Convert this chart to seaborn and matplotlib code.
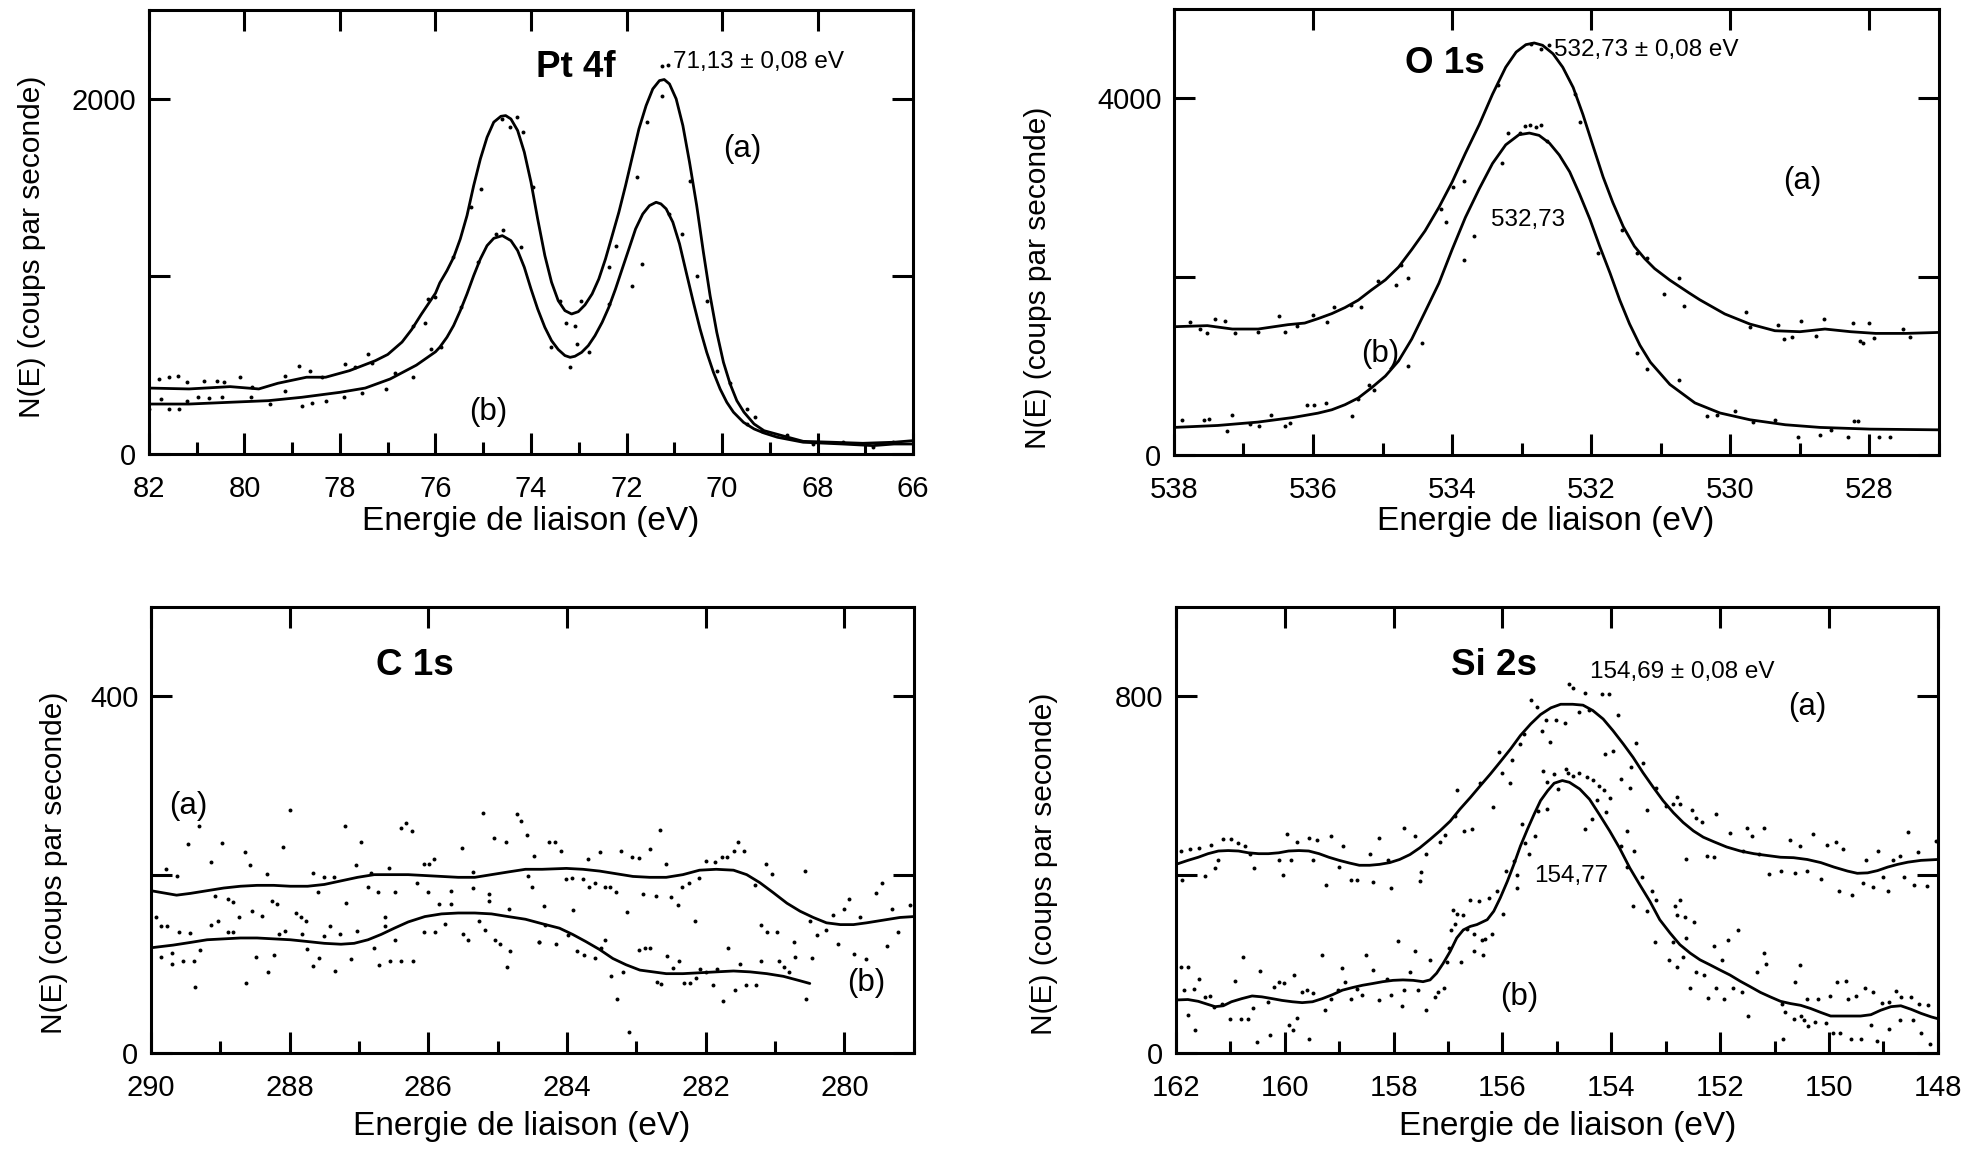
import matplotlib
matplotlib.use("Agg")
import matplotlib.pyplot as plt
import seaborn as sns

# ---------------- Pt 4f ----------------
pt_a_x = [82.0, 81.16, 80.3, 79.7, 79.3, 78.7, 78.3, 77.8, 77.26, 77.0, 76.7, 76.5, 76.3, 76.0,
          75.91, 75.76, 75.62, 75.48, 75.34, 75.20, 75.06, 74.92, 74.78, 74.63,
          74.53, 74.42, 74.28, 74.14, 74.00, 73.86, 73.71, 73.57, 73.43, 73.29,
          73.15, 73.01, 72.87, 72.72, 72.58, 72.44, 72.30, 72.16, 72.02, 71.88,
          71.74, 71.59, 71.45, 71.31, 71.21, 71.10, 70.96, 70.82, 70.68, 70.53,
          70.39, 70.25, 70.11, 69.97, 69.83, 69.69, 69.54, 69.33, 69.12,
          68.74, 68.3, 67.7, 67.05, 66.4, 66.0]
pt_a_y = [371, 366, 379, 366, 398, 432, 432, 469, 525, 560, 630, 700, 785, 905,
          963, 1032, 1107, 1211, 1342, 1511, 1661, 1783, 1868, 1901,
          1905, 1886, 1821, 1699, 1530, 1323, 1117, 967, 863, 807,
          788, 801, 839, 901, 985, 1098, 1229, 1361, 1511, 1671,
          1830, 1961, 2055, 2102, 2108, 2083, 1999, 1849, 1642, 1398,
          1136, 892, 685, 516, 394, 300, 235, 169, 131,
          103, 71, 66, 60, 66, 75]
pt_b_x = [82.0, 81.16, 80.3, 79.5, 78.8, 78.0, 77.47, 76.95, 76.4, 76.0,
          75.91, 75.76, 75.62, 75.48, 75.34, 75.20, 75.06, 74.92, 74.78, 74.60,
          74.42, 74.28, 74.14, 74.00, 73.86, 73.71, 73.57, 73.43, 73.29, 73.18,
          73.08, 72.94, 72.80, 72.66, 72.51, 72.37, 72.23, 72.09, 71.95, 71.81,
          71.66, 71.52, 71.38, 71.28, 71.17, 71.03, 70.89, 70.75, 70.60, 70.46,
          70.32, 70.18, 70.04, 69.90, 69.76, 69.55, 69.33, 69.12,
          68.84, 68.3, 67.47, 66.84, 66.4, 66.0]
pt_b_y = [281, 281, 291, 300, 319, 347, 371, 422, 500, 575,
          601, 657, 723, 807, 901, 1004, 1098, 1173, 1214, 1229,
          1201, 1145, 1051, 929, 816, 713, 638, 588, 554, 544,
          550, 572, 610, 666, 741, 826, 929, 1042, 1154, 1267,
          1351, 1398, 1417, 1408, 1380, 1305, 1183, 1023, 854, 704,
          572, 460, 366, 291, 235, 178, 141, 118,
          94, 66, 56, 47, 56, 56]
pt_dots_a_x = [81.79, 81.58, 81.39, 81.21, 80.84, 80.58, 80.42, 80.10, 79.84, 79.16,
               78.86, 78.63, 78.37, 77.89, 77.68, 77.42, 77.32, 76.47, 76.21, 76.16,
               76.00, 75.63, 75.26, 75.05, 74.61, 74.44, 74.29, 74.16, 73.95, 73.39,
               73.26, 73.07, 72.95, 72.37, 72.21, 71.79, 71.58, 71.26, 70.68, 70.32,
               69.84, 69.47, 69.31, 71.26, 71.13]
pt_dots_a_y = [422, 431, 441, 403, 413, 413, 403, 435, 375, 441,
               497, 469, 431, 507, 488, 563, 510, 722, 735, 872,
               882, 1107, 1388, 1491, 1885, 1838, 1899, 1810, 1501, 863,
               735, 722, 859, 1051, 1173, 1557, 1867, 2017, 1538, 863,
               398, 253, 206, 2185, 2191]
pt_dots_b_x = [82.0, 81.74, 81.58, 81.37, 81.21, 80.97, 80.74, 80.47, 79.87, 79.47,
               79.16, 78.79, 78.58, 78.29, 77.91, 77.53, 77.03, 76.84, 76.47, 76.10,
               75.89, 75.47, 75.10, 74.74, 74.58, 74.21, 73.58, 73.18, 73.03, 72.79,
               72.37, 71.89, 71.68, 71.10, 70.84, 70.53, 70.10, 69.47, 69.16, 68.63,
               68.10, 67.47, 66.84, 66.42]
pt_dots_b_y = [253, 310, 253, 253, 300, 319, 315, 319, 319, 281,
               356, 272, 285, 300, 319, 341, 366, 454, 431, 591,
               604, 825, 1079, 1238, 1261, 1163, 600, 488, 619, 572,
               844, 947, 1069, 1351, 1238, 1004, 469, 169, 131, 109,
               56, 66, 38, 66]

# ---------------- O 1s ----------------
o_a_x = [538.0, 537.52, 537.16, 536.79, 536.36, 536.12, 535.93, 535.73, 535.54, 535.35,
         535.16, 534.96, 534.77, 534.58, 534.39, 534.19, 534.00, 533.81, 533.61, 533.42,
         533.23, 533.08, 532.94, 532.82, 532.70, 532.55, 532.41, 532.26, 532.12, 531.98,
         531.83, 531.69, 531.54, 531.38, 531.23, 531.09, 530.87, 530.6, 530.44, 530.08,
         529.72, 529.36, 529.0, 528.64, 528.27, 527.91, 527.48, 527.0]
o_a_y = [1438, 1450, 1412, 1412, 1461, 1479, 1528, 1585, 1653, 1736,
         1850, 1963, 2107, 2304, 2512, 2777, 3060, 3382, 3704, 4044,
         4347, 4517, 4600, 4619, 4593, 4498, 4347, 4120, 3817, 3477,
         3117, 2830, 2560, 2340, 2200, 2090, 1960, 1820, 1740, 1581,
         1468, 1393, 1382, 1412, 1382, 1363, 1363, 1374]
o_b_x = [538.0, 537.37, 536.79, 536.29, 536.12, 535.93, 535.73, 535.54, 535.35, 535.16,
         534.96, 534.77, 534.58, 534.39, 534.19, 534.00, 533.81, 533.61, 533.42, 533.23,
         533.04, 532.89, 532.75, 532.60, 532.46, 532.31, 532.17, 532.02, 531.88, 531.73,
         531.59, 531.45, 531.3, 531.15, 530.87, 530.51, 530.15, 529.72, 529.21, 528.71,
         527.99, 527.0]
o_b_y = [309, 331, 369, 420, 443, 469, 507, 564, 639, 753,
         885, 1055, 1301, 1604, 1926, 2304, 2663, 2985, 3268, 3477,
         3590, 3609, 3583, 3495, 3363, 3174, 2928, 2644, 2342, 2039,
         1736, 1470, 1230, 1040, 791, 584, 471, 395, 339, 309,
         290, 282]
o_dots_a_x = [537.77, 537.63, 537.53, 537.41, 537.26, 537.12, 536.79, 536.49, 536.40, 536.23,
              536.00, 535.80, 535.70, 535.46, 535.31, 535.06, 534.81, 534.74, 534.64, 534.16,
              534.09, 533.99, 533.83, 533.34, 532.23, 532.16, 531.56, 531.34, 531.20, 530.74,
              530.96, 530.66, 529.78, 529.72, 529.32, 529.23, 529.11, 528.98, 528.77, 528.65,
              528.24, 528.14, 528.09, 528.00, 527.93, 527.52, 527.42, 532.86, 532.72, 532.61]
o_dots_a_y = [1487, 1412, 1363, 1525, 1498, 1363, 1374, 1562, 1374, 1450,
              1574, 1487, 1664, 1687, 1664, 1947, 1901, 2127, 1988, 2756,
              2617, 3004, 3068, 4149, 4047, 3735, 2523, 2267, 2203, 1988,
              1800, 1675, 1600, 1438, 1461, 1299, 1318, 1498, 1337, 1525,
              1476, 1280, 1261, 1476, 1310, 1412, 1318, 4612, 4556, 4593]
o_dots_b_x = [537.88, 537.57, 537.50, 537.24, 537.17, 536.90, 536.78, 536.61, 536.40, 536.33,
              536.09, 535.99, 535.82, 535.44, 535.35, 535.20, 535.12, 534.64, 534.43, 533.83,
              533.68, 533.29, 533.20, 533.03, 532.95, 532.88, 532.79, 532.72, 532.64, 531.90,
              531.34, 531.20, 530.74, 530.33, 530.19, 529.94, 529.68, 529.36, 529.03, 528.71,
              528.56, 528.31, 528.22, 528.17, 527.86, 527.71]
o_dots_b_y = [395, 395, 407, 264, 452, 346, 320, 452, 320, 358,
              557, 557, 584, 433, 633, 783, 734, 998, 1261, 2184,
              2455, 3276, 3614, 3607, 3690, 3697, 3682, 3697, 3520, 2267,
              1148, 960, 836, 433, 452, 497, 369, 395, 207, 226,
              282, 207, 384, 384, 207, 207]

# ---------------- C 1s ----------------
c_a_x = [290.00, 289.63, 289.43, 289.19, 288.95, 288.71, 288.47, 288.23, 287.99, 287.74,
         287.50, 287.26, 287.02, 286.78, 286.54, 286.29, 286.05, 285.81, 285.57, 285.33,
         285.09, 284.85, 284.60, 284.36, 284.01, 283.77, 283.53, 283.29, 283.05, 282.81,
         282.57, 282.33, 282.09, 281.85, 281.60, 281.41, 281.22, 281.03, 280.83, 280.64,
         280.45, 280.26, 280.06, 279.87, 279.68, 279.44, 279.20, 279.0]
c_a_y = [182, 177, 179, 182, 185, 187, 188, 188, 187, 187,
         189, 193, 197, 200, 200, 200, 199, 198, 197, 197,
         200, 203, 206, 206, 207, 206, 204, 201, 198, 197,
         197, 200, 205, 206, 205, 200, 191, 180, 168, 159,
         152, 146, 144, 144, 146, 149, 152, 153]
c_b_x = [290.00, 289.68, 289.43, 289.19, 288.95, 288.71, 288.47, 288.23, 287.99, 287.74,
         287.50, 287.26, 287.07, 286.87, 286.68, 286.49, 286.29, 286.05, 285.81, 285.57,
         285.33, 285.09, 284.85, 284.60, 284.36, 284.11, 283.92, 283.73, 283.53, 283.34,
         283.15, 282.95, 282.76, 282.57, 282.33, 282.09, 281.85, 281.60, 281.36, 281.12,
         280.88, 280.64, 280.50]
c_b_y = [118, 121, 124, 127, 128, 129, 129, 128, 127, 125,
         123, 122, 123, 127, 133, 140, 147, 153, 156, 157,
         157, 156, 153, 150, 145, 140, 133, 125, 116, 106,
         99, 93, 91, 89, 89, 90, 91, 92, 91, 89,
         86, 81, 78]
c_dots_1_x = [287.99, 289.31, 289.46, 288.98, 288.65, 289.14, 288.57, 289.78, 289.62, 288.33,
              288.09, 287.20, 286.97, 287.04, 286.40, 286.32, 286.24, 286.57, 286.83, 287.67,
              287.51, 287.36, 286.87, 286.72, 286.48, 287.59, 289.07, 288.89, 288.82, 288.25,
              288.18, 287.19, 289.93, 289.86, 289.77, 289.60, 289.44, 289.14, 289.04, 288.89,
              288.81, 288.73, 288.54, 288.40, 288.15, 288.07, 287.91, 287.83, 287.77, 287.82,
              287.51, 287.42, 287.27, 287.03, 286.63, 286.63, 286.48, 286.16, 286.06, 285.99,
              285.92, 286.00, 285.84, 285.67, 285.68, 285.51, 285.36, 285.35, 285.21, 285.05,
              284.88, 284.72, 284.66, 284.58, 284.48, 284.57, 284.50, 285.13, 285.13, 284.84,
              285.27, 285.19, 285.04, 284.97, 284.82, 284.87, 285.50, 285.43, 285.76, 285.91,
              286.06, 284.41, 289.86, 289.70, 289.69, 289.54, 289.38, 289.29, 289.36, 288.63,
              288.31, 288.48, 288.23, 287.75, 287.67, 287.58, 287.35, 287.11, 286.79, 286.71,
              286.55, 286.39, 286.22]
c_dots_1_y = [272, 255, 234, 236, 225, 214, 211, 206, 199, 201,
              231, 254, 237, 211, 252, 258, 249, 207, 202, 202,
              197, 197, 186, 180, 181, 180, 176, 173, 169, 170,
              167, 168, 152, 142, 142, 136, 135, 144, 148, 136,
              136, 153, 159, 154, 133, 137, 157, 152, 148, 134,
              131, 142, 133, 137, 153, 142, 127, 191, 212, 212,
              217, 180, 167, 167, 182, 230, 203, 185, 269, 241,
              237, 268, 260, 244, 221, 199, 186, 178, 170, 162,
              148, 138, 127, 122, 114, 96, 133, 127, 145, 136,
              136, 125, 108, 100, 112, 103, 103, 116, 74, 79,
              91, 108, 110, 117, 98, 106, 92, 105, 118, 99,
              103, 103, 103]
c_dots_2_x = [282.66, 284.26, 284.18, 284.09, 283.70, 283.52, 283.22, 283.06, 282.96, 282.81,
              282.57, 282.00, 281.86, 281.76, 281.69, 281.60, 281.53, 281.45, 281.13, 281.04,
              280.57, 284.01, 283.93, 283.77, 283.69, 283.60, 283.46, 283.38, 283.30, 283.14,
              282.90, 282.72, 282.50, 282.40, 282.34, 282.24, 282.10, 282.16, 284.33, 283.92,
              284.32, 284.40, 284.16, 283.99, 283.85, 283.76, 283.60, 283.51, 283.45, 283.36,
              283.20, 283.28, 282.96, 282.88, 282.80, 282.71, 282.64, 282.56, 282.47, 282.39,
              282.32, 282.23, 282.14, 282.08, 281.99, 281.90, 281.84, 281.75, 281.68, 281.58,
              281.51, 281.42, 281.28, 281.29, 281.21, 281.11, 280.97, 281.20, 280.95, 280.87,
              280.80, 280.73, 280.71, 280.55, 280.50, 280.47, 280.40, 280.26, 280.17, 280.09,
              280.00, 279.93, 279.86, 279.77, 279.69, 279.54, 279.46, 279.39, 279.32, 279.23,
              279.06, 283.11]
c_dots_2_y = [250, 237, 237, 227, 217, 225, 227, 220, 219, 229,
              212, 215, 214, 220, 220, 227, 237, 227, 212, 201,
              204, 195, 196, 195, 186, 191, 186, 186, 180, 158,
              178, 176, 175, 166, 186, 191, 196, 148, 165, 160,
              143, 124, 122, 132, 114, 110, 106, 118, 127, 86,
              91, 61, 116, 118, 118, 80, 77, 109, 95, 103,
              78, 78, 84, 94, 91, 76, 94, 58, 118, 71,
              100, 76, 76, 188, 143, 136, 136, 103, 103, 96,
              91, 124, 108, 61, 148, 106, 132, 138, 155, 122,
              162, 173, 111, 153, 105, 179, 191, 120, 161, 136,
              166, 24]

# ---------------- Si 2s ----------------
si_a_x = [162.0, 161.78, 161.59, 161.41, 161.22, 161.04, 160.85, 160.67, 160.48, 160.30,
          160.11, 159.93, 159.74, 159.56, 159.37, 159.19, 159.00, 158.81, 158.63, 158.44,
          158.26, 158.07, 157.89, 157.70, 157.52, 157.33, 157.15, 156.96, 156.78, 156.59,
          156.41, 156.22, 156.04, 155.85, 155.67, 155.48, 155.30, 155.11, 154.93, 154.71,
          154.52, 154.34, 154.15, 153.97, 153.78, 153.60, 153.42, 153.23, 153.05, 152.86,
          152.68, 152.49, 152.31, 152.12, 151.88, 151.63, 151.38, 151.14, 150.89, 150.65,
          150.40, 150.15, 149.91, 149.66, 149.48, 149.29, 149.11, 148.92, 148.74, 148.55,
          148.31, 148.0]
si_a_y = [423, 432, 439, 447, 453, 454, 453, 449, 447, 447,
          449, 453, 454, 453, 447, 439, 432, 426, 421, 421,
          423, 427, 434, 445, 460, 479, 498, 520, 547, 573,
          599, 626, 653, 682, 712, 738, 759, 774, 782, 782,
          780, 768, 749, 723, 693, 663, 629, 596, 566, 539,
          517, 498, 484, 474, 462, 453, 447, 443, 439, 438,
          434, 427, 417, 408, 403, 404, 409, 417, 423, 428,
          432, 434]
si_b_x = [162.0, 161.78, 161.59, 161.41, 161.28, 161.13, 160.98, 160.79, 160.60, 160.42,
          160.23, 160.05, 159.86, 159.68, 159.49, 159.31, 159.12, 158.94, 158.75, 158.57,
          158.38, 158.20, 158.01, 157.83, 157.64, 157.46, 157.33, 157.21, 157.09, 156.96,
          156.84, 156.72, 156.59, 156.47, 156.28, 156.16, 156.04, 155.91, 155.79, 155.67,
          155.54, 155.42, 155.30, 155.17, 155.05, 154.90, 154.77, 154.58, 154.40, 154.22,
          154.03, 153.85, 153.66, 153.48, 153.29, 153.11, 152.92, 152.74, 152.55, 152.37,
          152.19, 152.00, 151.82, 151.63, 151.45, 151.26, 151.08, 150.89, 150.71, 150.52,
          150.34, 150.15, 149.97, 149.78, 149.60, 149.42, 149.23, 149.05, 148.86, 148.68,
          148.49, 148.31, 148.12, 148.0]
si_b_y = [119, 120, 116, 109, 104, 106, 115, 122, 128, 126,
          122, 118, 115, 113, 115, 122, 131, 141, 147, 152,
          156, 160, 163, 164, 163, 160, 164, 179, 201, 228,
          258, 276, 284, 288, 299, 318, 348, 385, 423, 464,
          502, 535, 566, 588, 605, 611, 607, 592, 569, 535,
          498, 460, 415, 378, 340, 299, 269, 243, 224, 209,
          198, 186, 175, 161, 149, 136, 126, 116, 111, 107,
          100, 91, 83, 83, 83, 83, 86, 96, 104, 106,
          98, 89, 81, 77]
si_dots_1_x = [161.90, 161.75, 161.58, 161.36, 161.13, 160.98, 160.86, 160.73, 159.96, 159.77,
               159.56, 159.40, 159.15, 158.93, 158.44, 158.27, 157.80, 157.61, 157.40, 161.89,
               161.46, 161.28, 161.22, 160.64, 160.56, 160.11, 160.04, 159.88, 159.48, 159.25,
               159.00, 158.78, 158.68, 158.37, 158.10, 158.04, 157.52, 157.49, 157.14, 157.06,
               156.87, 156.83, 156.70, 156.56, 156.41, 156.17, 156.07, 156.01, 155.86, 155.82,
               155.67, 155.60, 155.47, 155.37, 155.28, 155.20, 155.12, 155.02, 154.98, 155.25,
               155.19]
si_dots_1_y = [454, 457, 460, 466, 479, 481, 472, 464, 492, 474,
               483, 477, 487, 464, 447, 483, 504, 487, 447, 389,
               397, 414, 432, 447, 414, 432, 399, 432, 432, 376,
               417, 387, 387, 384, 432, 369, 385, 406, 474, 490,
               532, 590, 498, 502, 605, 552, 674, 629, 605, 656,
               692, 716, 792, 776, 723, 746, 697, 747, 592, 632,
               607]
si_dots_2_x = [156.91, 156.83, 156.72, 156.60, 156.44, 156.25, 156.10, 155.99, 156.95, 156.87,
               156.65, 156.52, 156.38, 156.19, 156.36, 156.77, 156.53, 156.33, 155.73, 155.73,
               155.59, 155.51, 155.41, 155.35, 155.19, 155.64, 155.79, 155.94, 155.06, 154.83]
si_dots_2_y = [321, 312, 310, 344, 340, 348, 363, 312, 276, 289,
               279, 267, 254, 267, 219, 204, 228, 256, 400, 370,
               472, 447, 487, 543, 547, 514, 430, 408, 626, 637]
si_dots_3_x = [161.90, 161.77, 161.85, 161.67, 161.58, 161.78, 161.65, 161.46, 161.38, 161.30,
               161.16, 161.01, 160.91, 160.80, 160.76, 160.68, 160.59, 160.51, 160.45, 160.30,
               160.27, 160.19, 160.11, 160.02, 159.93, 159.85, 159.83, 159.77, 159.69, 159.60,
               159.56, 159.48, 159.32, 159.26, 159.15, 159.03, 158.95, 158.89, 158.78, 158.68,
               158.58, 158.51, 158.37, 158.26, 158.12, 158.04, 157.92, 157.84, 157.80, 157.69,
               157.61, 157.55, 157.40, 157.33, 157.24, 157.18, 157.07, 157.02, 156.99]
si_dots_3_y = [194, 194, 141, 143, 167, 86, 51, 126, 128, 104,
               109, 77, 161, 77, 216, 77, 101, 25, 184, 115,
               40, 149, 160, 156, 62, 51, 175, 79, 137, 141,
               31, 134, 220, 96, 122, 141, 190, 160, 122, 143,
               131, 220, 186, 119, 167, 130, 252, 106, 141, 182,
               229, 141, 96, 209, 126, 137, 146, 205, 235]
si_dots_4_x = [154.77, 154.70, 154.49, 154.18, 154.04, 153.88, 154.60, 154.41, 154.86, 154.12,
               153.97, 153.55, 153.42, 153.63, 153.83, 153.65, 153.34, 153.18, 152.99, 152.86,
               152.79, 152.73, 152.52, 152.44, 152.34, 152.07, 152.63, 152.25, 152.11, 151.82,
               151.58, 151.51, 151.42, 151.29, 151.20, 151.11, 150.89, 150.71, 150.54, 150.62,
               150.41, 150.29, 150.14, 150.04, 149.88, 149.74, 149.82, 149.57, 149.32, 149.38,
               149.20, 149.10, 149.00, 148.92, 148.83, 148.69, 148.54, 148.62, 148.44, 148.37,
               148.20, 148.03]
si_dots_4_y = [828, 819, 807, 804, 804, 757, 765, 770, 740, 671,
               678, 695, 650, 641, 614, 594, 544, 594, 554, 559,
               573, 558, 544, 526, 517, 537, 434, 442, 439, 494,
               454, 504, 487, 447, 505, 402, 409, 477, 464, 404,
               409, 492, 391, 466, 474, 457, 363, 355, 432, 382,
               372, 453, 394, 364, 432, 442, 496, 394, 376, 451,
               374, 475]
si_dots_5_x = [154.80, 154.70, 154.59, 154.45, 154.34, 154.23, 154.14, 154.03, 154.26, 154.35,
               154.49, 154.09, 153.83, 153.72, 153.59, 153.43, 153.72, 153.60, 153.34, 153.26,
               153.17, 152.83, 152.79, 152.73, 152.65, 152.48, 152.63, 153.20, 152.86, 152.94,
               152.79, 152.69, 152.55, 152.44, 152.30, 152.22, 152.12, 151.97, 151.85, 151.68,
               152.07, 151.93, 151.77, 151.60, 151.48, 151.32, 151.20, 151.15, 150.86, 150.62,
               150.54, 150.40, 150.20, 149.98, 149.86, 149.69, 149.66, 149.51, 149.34, 149.20,
               149.02, 148.89, 148.77, 148.67, 148.49, 148.34, 148.19, 150.80, 150.65, 150.46,
               150.39, 150.25, 150.06, 149.92, 149.79, 149.60, 149.42, 149.23, 149.12, 148.89,
               148.69, 148.46, 148.31, 148.14, 150.84, 150.52]
si_dots_5_y = [629, 622, 629, 620, 612, 599, 590, 572, 567, 524,
               502, 541, 464, 498, 453, 394, 417, 329, 319, 363,
               344, 329, 310, 344, 304, 294, 258, 250, 250, 209,
               194, 216, 146, 181, 176, 124, 239, 209, 254, 276,
               146, 121, 145, 136, 83, 182, 224, 199, 111, 160,
               198, 122, 122, 128, 160, 161, 121, 128, 146, 136,
               113, 115, 139, 126, 126, 111, 107, 91, 77, 74,
               61, 70, 68, 46, 46, 31, 32, 64, 26, 55,
               74, 74, 46, 21, 31, 83]

XLABEL = "Energie de liaison (eV)"
YLABEL = "N(E) (coups par seconde)"

sns.set_theme(style="ticks")
plt.rcParams['font.family'] = ['Liberation Sans', 'DejaVu Sans']
plt.rcParams.update({'text.color': 'black', 'axes.labelcolor': 'black', 'xtick.color': 'black',
                     'ytick.color': 'black', 'axes.edgecolor': 'black'})

fig = plt.figure(figsize=(19.78, 11.51), dpi=100, facecolor='white')


def panel(rect, curves, dots, xlim, ylim, xmajor, xminor, yticks, ylabels, xlab_pos, ylab_pos):
    ax = fig.add_axes(rect)
    for dx, dy in dots:
        sns.scatterplot(x=dx, y=dy, ax=ax, color='black', s=8, linewidth=0, zorder=2)
    for cx, cy in curves:
        sns.lineplot(x=cx, y=cy, ax=ax, color='black', lw=2.0, estimator=None, sort=False, zorder=3)
    ax.set_xlim(*xlim)
    ax.set_ylim(*ylim)
    ax.set_xticks(xmajor)
    ax.set_xticklabels([str(v) for v in xmajor])
    ax.set_xticks(xminor, minor=True)
    ax.set_yticks(yticks)
    ax.set_yticklabels(ylabels)
    ax.tick_params(axis='x', which='major', direction='in', length=15, width=2.2,
                   top=True, bottom=True, labelsize=21, pad=15)
    ax.tick_params(axis='x', which='minor', direction='in', length=9, width=2.2, top=False, bottom=True)
    ax.tick_params(axis='y', which='major', direction='in', length=15, width=2.2,
                   left=True, right=True, labelsize=21, pad=9)
    for s in ax.spines.values():
        s.set_visible(True)
        s.set_linewidth(2.2)
        s.set_color('black')
    ax.set_xlabel(XLABEL, fontsize=24)
    ax.xaxis.set_label_coords(*xlab_pos)
    ax.xaxis.label.set_va('center')
    ax.set_ylabel(YLABEL, fontsize=21.5)
    ax.yaxis.set_label_coords(*ylab_pos)
    ax.yaxis.label.set_va('center')
    ax.set_facecolor('white')
    return ax


TITLE = dict(fontsize=26.5, fontweight='bold', ha='center', va='center')
NOTE = dict(fontsize=17.5, va='center')
TAG = dict(fontsize=22.5, ha='center', va='center')

# Pt 4f
ax1 = panel([0.0753, 0.6056, 0.3863, 0.3858],
            [(pt_a_x, pt_a_y), (pt_b_x, pt_b_y)],
            [(pt_dots_a_x, pt_dots_a_y), (pt_dots_b_x, pt_dots_b_y)],
            (82, 66), (0, 2500), list(range(82, 65, -2)), list(range(81, 66, -2)),
            [0, 1000, 2000], ['0', '', '2000'], (0.499, -0.151), (-0.153, 0.466))
ax1.text(73.06, 2176, "Pt 4f", **TITLE)
ax1.text(71.03, 2204, "71,13 ± 0,08 eV", ha='left', **NOTE)
ax1.text(69.58, 1717, "(a)", **TAG)
ax1.text(74.89, 234, "(b)", **TAG)

# O 1s
ax2 = panel([0.5935, 0.6047, 0.3868, 0.3875],
            [(o_a_x, o_a_y), (o_b_x, o_b_y)],
            [(o_dots_a_x, o_dots_a_y), (o_dots_b_x, o_dots_b_y)],
            (538, 527), (0, 5000), list(range(538, 527, -2)), list(range(537, 526, -2)),
            [0, 2000, 4000], ['0', '', '4000'], (0.486, -0.148), (-0.178, 0.397))
ax2.text(534.1, 4386, "O 1s", **TITLE)
ax2.text(532.53, 4537, "532,73 ± 0,08 eV", ha='left', **NOTE)
ax2.text(532.91, 2636, "532,73", ha='center', **NOTE)
ax2.text(528.96, 3068, "(a)", **TAG)
ax2.text(535.03, 1130, "(b)", **TAG)

# C 1s
ax3 = panel([0.0763, 0.0851, 0.3857, 0.3875],
            [(c_a_x, c_a_y), (c_b_x, c_b_y)],
            [(c_dots_1_x, c_dots_1_y), (c_dots_2_x, c_dots_2_y)],
            (290, 279), (0, 500), list(range(290, 279, -2)), list(range(289, 278, -2)),
            [0, 200, 400], ['0', '', '400'], (0.486, -0.165), (-0.127, 0.426))
ax3.text(286.2, 435, "C 1s", **TITLE)
ax3.text(289.46, 277, "(a)", **TAG)
ax3.text(279.68, 78, "(b)", **TAG)

# Si 2s
ax4 = panel([0.5945, 0.0851, 0.3852, 0.3875],
            [(si_a_x, si_a_y), (si_b_x, si_b_y)],
            [(si_dots_1_x, si_dots_1_y), (si_dots_2_x, si_dots_2_y), (si_dots_3_x, si_dots_3_y),
             (si_dots_4_x, si_dots_4_y), (si_dots_5_x, si_dots_5_y)],
            (162, 148), (0, 1000), list(range(162, 147, -2)), list(range(161, 148, -2)),
            [0, 400, 800], ['0', '', '800'], (0.514, -0.165), (-0.173, 0.424))
ax4.text(156.15, 870, "Si 2s", **TITLE)
ax4.text(154.40, 855, "154,69 ± 0,08 eV", ha='left', **NOTE)
ax4.text(154.74, 397, "154,77", ha='center', **NOTE)
ax4.text(150.4, 776, "(a)", **TAG)
ax4.text(155.69, 125, "(b)", **TAG)

fig.savefig("out.png", dpi=100, facecolor='white')
